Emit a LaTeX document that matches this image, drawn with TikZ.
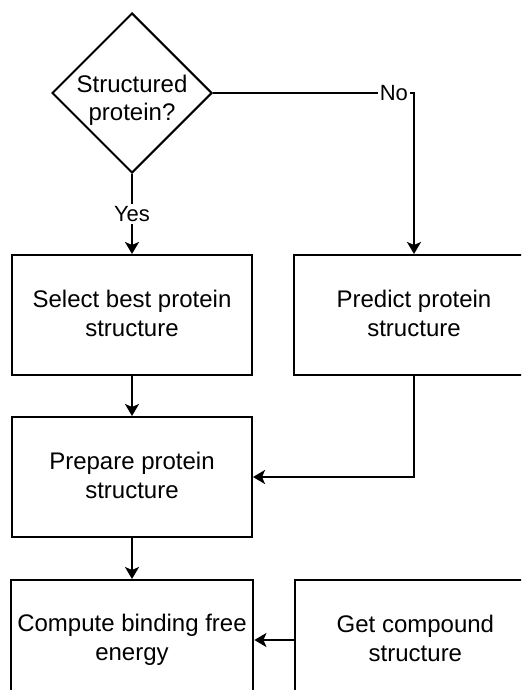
\documentclass[tikz,border=0pt]{standalone}
\usepackage{fontspec}
\setmainfont{Liberation Sans}
\usetikzlibrary{shapes.geometric,positioning,arrows.meta}

\begin{document}
\begin{tikzpicture}[x=0.5pt, y=-0.5pt,
	box/.style={rectangle, draw, line width=1pt, minimum width=120pt, minimum height=60pt, align=center, font=\fontsize{12}{14.4}\selectfont, execute at begin node=\rule{0pt}{13pt}, execute at end node=\rule[-1.5pt]{0pt}{1.5pt}},
	decision/.style={diamond, draw, line width=1pt, minimum size=80pt, inner sep=-14pt, align=center, font=\fontsize{12}{14.4}\selectfont},
	lbl/.style={fill=white, inner sep=1pt, font=\fontsize{11}{13}\selectfont},
	flow/.style={draw, line width=1pt, -{Stealth[length=6pt, width=7pt, inset=1.5pt]}}
]

	\clip (0,0) rectangle (521,690);
	\useasboundingbox (0,0) rectangle (521,690);

	% Vertices
	\node[decision] (dec) at (132,93) {\rule{0pt}{16pt}Structured\\protein?};
	\node[box, below=40pt of dec] (select) {Select best protein\\structure};
	\node[box, right=20pt of select] (predict) {Predict protein\\structure};
	\node[box, below=20pt of select] (prepare) {Prepare protein\\structure};
	\node[box, below=20.5pt of prepare] (compute) {Compute binding free\\energy};
	\node[box, right=20pt of compute] (getcmp) {Get compound\\structure};

	% Edges with labels
	\draw[flow] (dec) -- node[lbl] {Yes} (select);
	\draw[flow] (dec.east) -| node[lbl, pos=0.45] {No} (predict.north);
	\draw[flow] (select) -- (prepare);
	\draw[flow] (predict.south) |- (prepare.east);
	\draw[flow] (prepare) -- (compute);
	\draw[flow] (getcmp) -- (compute);

\end{tikzpicture}
\end{document}
